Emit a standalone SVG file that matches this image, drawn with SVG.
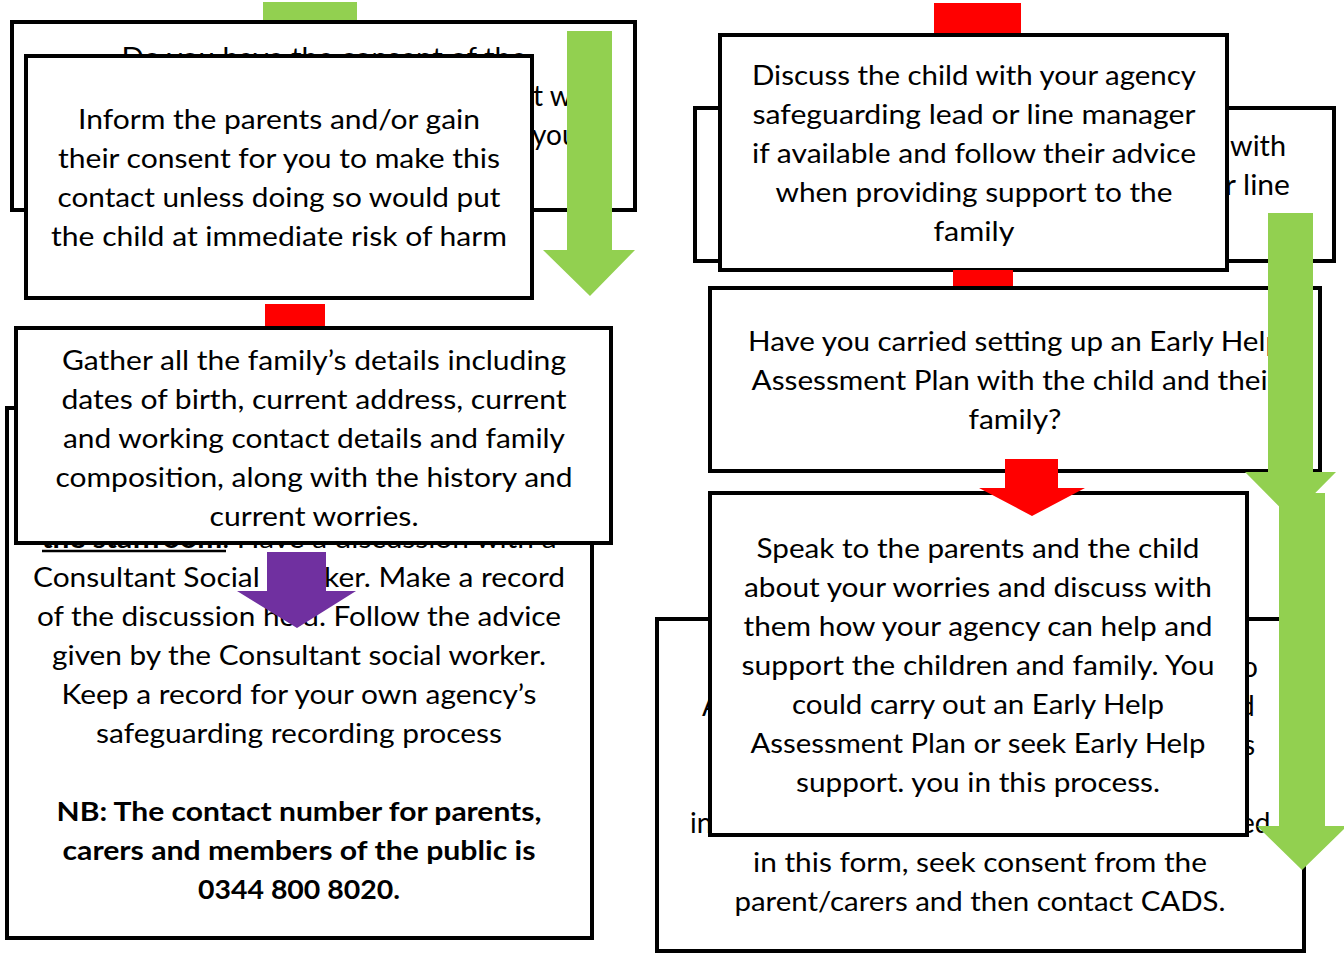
<svg xmlns="http://www.w3.org/2000/svg" width="1344" height="956" viewBox="0 0 1344 956">
<style>
.box{fill:#fff;stroke:#000;stroke-width:4}
.t{font-family:Lato,"Open Sans","Liberation Sans",sans-serif;font-size:26px;fill:#000;text-anchor:middle}
.f{font-family:Lato,"Open Sans","Liberation Sans",sans-serif;font-size:28px;fill:#000}
.b{font-weight:bold}
.green{fill:#92D050}
.red{fill:#FF0000}
.purple{fill:#7030A0}
</style>
<rect width="1344" height="956" fill="#fff"/>

<g id="connectors-back">
<rect class="green" x="263" y="2" width="94" height="21"/>
<rect class="red" x="934" y="3" width="87" height="33"/>
</g>

<g id="node-consent">
<rect class="box" x="12" y="22" width="623" height="188"/>
<text class="t" x="324" y="67" textLength="405" lengthAdjust="spacingAndGlyphs">Do you have the consent of the</text>
<text class="f" x="533" y="106">t w</text>
<text class="f" x="532" y="145">you</text>
</g>

<g id="arrow-green-left">
<path class="green" d="M567 31H612V250H635L590 296L543 250H567Z"/>
</g>

<g id="node-inform">
<rect class="box" x="26" y="56" width="506" height="242"/>
<text class="t" x="279" y="129" textLength="402" lengthAdjust="spacingAndGlyphs">Inform the parents and/or gain</text>
<text class="t" x="279" y="168" textLength="442" lengthAdjust="spacingAndGlyphs">their consent for you to make this</text>
<text class="t" x="279" y="207" textLength="443" lengthAdjust="spacingAndGlyphs">contact unless doing so would put</text>
<text class="t" x="279" y="246" textLength="456" lengthAdjust="spacingAndGlyphs">the child at immediate risk of harm</text>
</g>

<g id="connector-red-left">
<rect class="red" x="265" y="304" width="60" height="25"/>
</g>

<g id="node-staffroom">
<rect class="box" x="7" y="408" width="585" height="530"/>
<text class="t" x="299" y="548" textLength="515" lengthAdjust="spacingAndGlyphs"><tspan class="b">the staffroom</tspan>. Have a discussion with a</text>
<line x1="42" y1="551" x2="226" y2="551" stroke="#000" stroke-width="2.5"/>
<text class="t" x="299" y="587" textLength="532" lengthAdjust="spacingAndGlyphs">Consultant Social Worker. Make a record</text>
<text class="t" x="299" y="626" textLength="524" lengthAdjust="spacingAndGlyphs">of the discussion held. Follow the advice</text>
<text class="t" x="299" y="665" textLength="494" lengthAdjust="spacingAndGlyphs">given by the Consultant social worker.</text>
<text class="t" x="299" y="704" textLength="475" lengthAdjust="spacingAndGlyphs">Keep a record for your own agency’s</text>
<text class="t" x="299" y="743" textLength="406" lengthAdjust="spacingAndGlyphs">safeguarding recording process</text>
<text class="t b" x="299" y="821" textLength="485" lengthAdjust="spacingAndGlyphs">NB: The contact number for parents,</text>
<text class="t b" x="299" y="860" textLength="473" lengthAdjust="spacingAndGlyphs">carers and members of the public is</text>
<text class="t b" x="299" y="899" textLength="202" lengthAdjust="spacingAndGlyphs">0344 800 8020.</text>
</g>

<g id="node-gather">
<rect class="box" x="16" y="328" width="595" height="215"/>
<text class="t" x="314" y="370" textLength="504" lengthAdjust="spacingAndGlyphs">Gather all the family’s details including</text>
<text class="t" x="314" y="409" textLength="505" lengthAdjust="spacingAndGlyphs">dates of birth, current address, current</text>
<text class="t" x="314" y="448" textLength="502" lengthAdjust="spacingAndGlyphs">and working contact details and family</text>
<text class="t" x="314" y="487" textLength="517" lengthAdjust="spacingAndGlyphs">composition, along with the history and</text>
<text class="t" x="314" y="526" textLength="209" lengthAdjust="spacingAndGlyphs">current worries.</text>
</g>

<g id="arrow-purple">
<path class="purple" d="M267 552H326V591H356L297 628L237 591H267Z"/>
</g>

<g id="node-discuss-back">
<rect class="box" x="695" y="108" width="639" height="153"/>
<text class="f" x="1286" y="156" text-anchor="end" textLength="56" lengthAdjust="spacingAndGlyphs">with</text>
<text class="f" x="1290" y="195" text-anchor="end" textLength="82" lengthAdjust="spacingAndGlyphs">or line</text>
</g>

<g id="node-discuss">
<rect class="box" x="720" y="35" width="507" height="235"/>
<text class="t" x="974" y="85" textLength="444" lengthAdjust="spacingAndGlyphs">Discuss the child with your agency</text>
<text class="t" x="974" y="124" textLength="443" lengthAdjust="spacingAndGlyphs">safeguarding lead or line manager</text>
<text class="t" x="974" y="163" textLength="444" lengthAdjust="spacingAndGlyphs">if available and follow their advice</text>
<text class="t" x="974" y="202" textLength="397" lengthAdjust="spacingAndGlyphs">when providing support to the</text>
<text class="t" x="974" y="241" textLength="81" lengthAdjust="spacingAndGlyphs">family</text>
</g>

<g id="connector-red-right">
<rect class="red" x="953" y="270" width="60" height="19"/>
</g>

<g id="node-early-help">
<rect class="box" x="710" y="288" width="610" height="183"/>
<text class="t" x="1015" y="351" textLength="534" lengthAdjust="spacingAndGlyphs">Have you carried setting up an Early Help</text>
<text class="t" x="1015" y="390" textLength="527" lengthAdjust="spacingAndGlyphs">Assessment Plan with the child and their</text>
<text class="t" x="1015" y="429" textLength="93" lengthAdjust="spacingAndGlyphs">family?</text>
</g>

<g id="arrow-green-right-1">
<path class="green" d="M1268 213H1313V472H1336L1290.5 518L1245 472H1268Z"/>
</g>

<g id="node-cads">
<rect class="box" x="657" y="619" width="647" height="332"/>
<text class="f" x="1242" y="677">o</text>
<text class="f" x="702" y="716">A</text>
<text class="f" x="1239" y="716">d</text>
<text class="f" x="1243" y="755">s</text>
<text class="f" x="690" y="833">in</text>
<text class="f" x="1240" y="833">ed</text>
<text class="t" x="980" y="872" textLength="454" lengthAdjust="spacingAndGlyphs">in this form, seek consent from the</text>
<text class="t" x="980" y="911" textLength="491" lengthAdjust="spacingAndGlyphs">parent/carers and then contact CADS.</text>
</g>

<g id="node-speak">
<rect class="box" x="710" y="493" width="537" height="342"/>
<text class="t" x="978" y="558" textLength="443" lengthAdjust="spacingAndGlyphs">Speak to the parents and the child</text>
<text class="t" x="978" y="597" textLength="468" lengthAdjust="spacingAndGlyphs">about your worries and discuss with</text>
<text class="t" x="978" y="636" textLength="469" lengthAdjust="spacingAndGlyphs">them how your agency can help and</text>
<text class="t" x="978" y="675" textLength="473" lengthAdjust="spacingAndGlyphs">support the children and family. You</text>
<text class="t" x="978" y="714" textLength="372" lengthAdjust="spacingAndGlyphs">could carry out an Early Help</text>
<text class="t" x="978" y="753" textLength="455" lengthAdjust="spacingAndGlyphs">Assessment Plan or seek Early Help</text>
<text class="t" x="978" y="792" textLength="364" lengthAdjust="spacingAndGlyphs">support. you in this process.</text>
</g>

<g id="connectors-front">
<path class="red" d="M1005 459H1058V488H1085L1032 516L979 488H1005Z"/>
<path class="green" d="M1279 493H1325V826H1347L1302 870L1257 826H1279Z"/>
</g>
</svg>
